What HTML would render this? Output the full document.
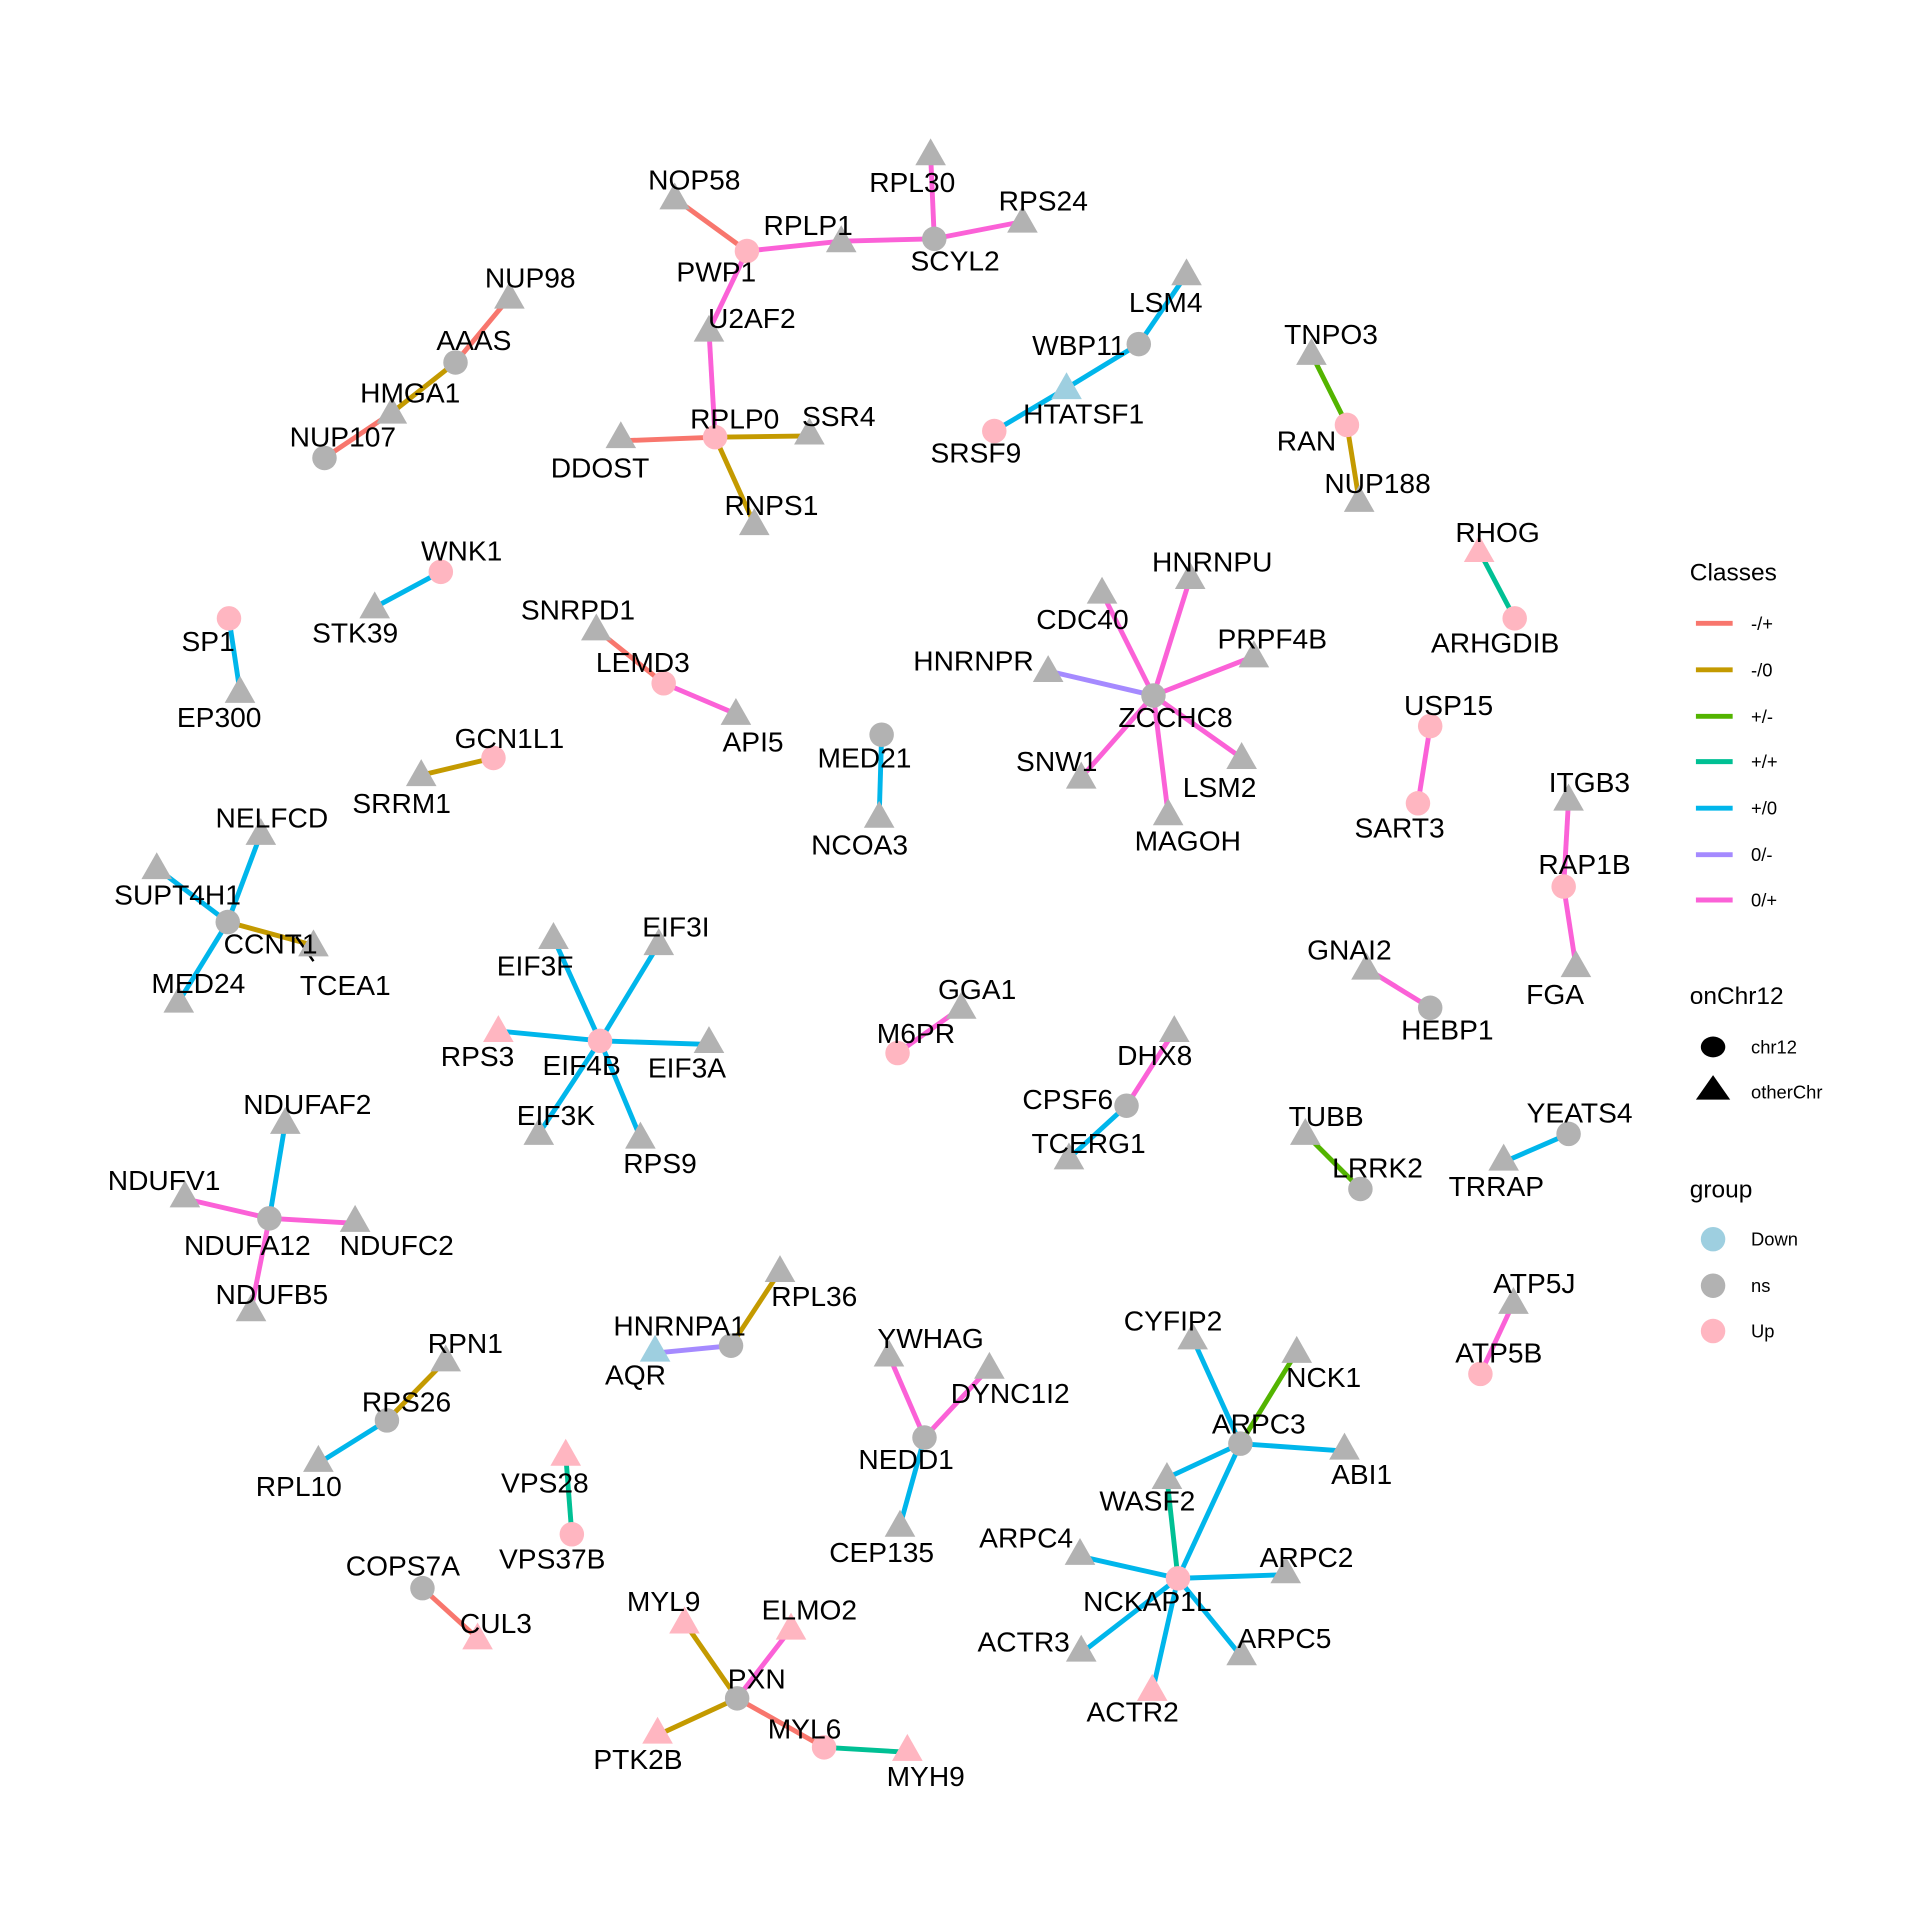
<!DOCTYPE html>
<html><head><meta charset="utf-8"><style>
html,body{margin:0;padding:0;background:#fff;}
svg{display:block;}
text{font-family:"Liberation Sans",Arial,sans-serif;}
.l{font-size:23px;text-anchor:middle;dominant-baseline:central;fill:#000;}
.lg{font-size:15px;dominant-baseline:central;fill:#000;}
.lt{font-size:20px;dominant-baseline:central;fill:#000;}
</style></head><body>
<svg width="1920" height="1920" viewBox="0 0 1568 1568" xmlns="http://www.w3.org/2000/svg">
<defs><polygon id="t" points="0,-13 -12.5,9 12.5,9"/></defs>
<rect width="1568" height="1568" fill="#fff"/>
<g stroke-width="4" stroke-linecap="butt" fill="none">
<!-- cluster 1 -->
<line x1="551" y1="162" x2="610" y2="205" stroke="#F8766D"/>
<line x1="610" y1="205" x2="687" y2="197" stroke="#FB61D7"/>
<line x1="687" y1="197" x2="763" y2="195" stroke="#FB61D7"/>
<line x1="763" y1="195" x2="760" y2="126" stroke="#FB61D7"/>
<line x1="763" y1="195" x2="835" y2="181" stroke="#FB61D7"/>
<line x1="610" y1="205" x2="579" y2="270" stroke="#FB61D7"/>
<line x1="579" y1="270" x2="584" y2="357" stroke="#FB61D7"/>
<line x1="584" y1="357" x2="507" y2="360" stroke="#F8766D"/>
<line x1="584" y1="357" x2="661" y2="356" stroke="#C49A00"/>
<line x1="584" y1="357" x2="616" y2="428" stroke="#C49A00"/>
<!-- AAAS -->
<line x1="416" y1="243" x2="372" y2="296" stroke="#F8766D"/>
<line x1="372" y1="296" x2="320" y2="337" stroke="#C49A00"/>
<line x1="320" y1="337" x2="265" y2="374" stroke="#F8766D"/>
<!-- LSM4 -->
<line x1="969" y1="224" x2="930" y2="281" stroke="#00B6EB"/>
<line x1="930" y1="281" x2="871" y2="317" stroke="#00B6EB"/>
<line x1="871" y1="317" x2="812" y2="352" stroke="#00B6EB"/>
<!-- RAN -->
<line x1="1071" y1="289" x2="1100" y2="347" stroke="#53B400"/>
<line x1="1100" y1="347" x2="1110" y2="409" stroke="#C49A00"/>
<line x1="1208" y1="450" x2="1237" y2="505" stroke="#00C094"/>
<line x1="360" y1="467" x2="306" y2="496" stroke="#00B6EB"/>
<line x1="187" y1="505" x2="196" y2="565" stroke="#00B6EB"/>
<line x1="487" y1="514" x2="542" y2="558" stroke="#F8766D"/>
<line x1="542" y1="558" x2="601" y2="583" stroke="#FB61D7"/>
<line x1="403" y1="619" x2="344" y2="633" stroke="#C49A00"/>
<line x1="720" y1="600" x2="718" y2="667" stroke="#00B6EB"/>
<!-- ZCCHC8 -->
<line x1="942" y1="568" x2="972" y2="472" stroke="#FB61D7"/>
<line x1="942" y1="568" x2="900" y2="484" stroke="#FB61D7"/>
<line x1="942" y1="568" x2="1024" y2="536" stroke="#FB61D7"/>
<line x1="942" y1="568" x2="856" y2="548" stroke="#A58AFF"/>
<line x1="942" y1="568" x2="883" y2="635" stroke="#FB61D7"/>
<line x1="942" y1="568" x2="1014" y2="619" stroke="#FB61D7"/>
<line x1="942" y1="568" x2="954" y2="665" stroke="#FB61D7"/>
<line x1="1168" y1="593" x2="1158" y2="656" stroke="#FB61D7"/>
<line x1="1281" y1="653" x2="1277" y2="724" stroke="#FB61D7"/>
<line x1="1277" y1="724" x2="1287" y2="789" stroke="#FB61D7"/>
<!-- CCNT1 -->
<line x1="213" y1="681" x2="186" y2="753" stroke="#00B6EB"/>
<line x1="128" y1="709" x2="186" y2="753" stroke="#00B6EB"/>
<line x1="186" y1="753" x2="256" y2="772" stroke="#C49A00"/>
<line x1="186" y1="753" x2="146" y2="818" stroke="#00B6EB"/>
<!-- EIF4B -->
<line x1="490" y1="850" x2="452" y2="766" stroke="#00B6EB"/>
<line x1="490" y1="850" x2="538" y2="771" stroke="#00B6EB"/>
<line x1="490" y1="850" x2="407" y2="842" stroke="#00B6EB"/>
<line x1="490" y1="850" x2="579" y2="853" stroke="#00B6EB"/>
<line x1="490" y1="850" x2="440" y2="926" stroke="#00B6EB"/>
<line x1="490" y1="850" x2="523" y2="929" stroke="#00B6EB"/>
<line x1="785" y1="823" x2="733" y2="860" stroke="#FB61D7"/>
<line x1="959" y1="842" x2="920" y2="903" stroke="#FB61D7"/>
<line x1="920" y1="903" x2="873" y2="946" stroke="#00B6EB"/>
<line x1="1116" y1="791" x2="1168" y2="823" stroke="#FB61D7"/>
<line x1="1066" y1="926" x2="1111" y2="971" stroke="#53B400"/>
<line x1="1281" y1="926" x2="1228" y2="949" stroke="#00B6EB"/>
<!-- NDUFA12 -->
<line x1="233" y1="917" x2="220" y2="995" stroke="#00B6EB"/>
<line x1="151" y1="979" x2="220" y2="995" stroke="#FB61D7"/>
<line x1="290" y1="999" x2="220" y2="995" stroke="#FB61D7"/>
<line x1="205" y1="1070" x2="220" y2="995" stroke="#FB61D7"/>
<line x1="1236" y1="1064" x2="1209" y2="1122" stroke="#FB61D7"/>
<line x1="637" y1="1038" x2="597" y2="1099" stroke="#C49A00"/>
<line x1="597" y1="1099" x2="535" y2="1105" stroke="#A58AFF"/>
<line x1="364" y1="1111" x2="316" y2="1160" stroke="#C49A00"/>
<line x1="316" y1="1160" x2="260" y2="1195" stroke="#00B6EB"/>
<line x1="462" y1="1188" x2="467" y2="1253" stroke="#00C094"/>
<line x1="345" y1="1297" x2="390" y2="1338" stroke="#F8766D"/>
<!-- NEDD1 -->
<line x1="726" y1="1107" x2="755" y2="1174" stroke="#FB61D7"/>
<line x1="808" y1="1117" x2="755" y2="1174" stroke="#FB61D7"/>
<line x1="755" y1="1174" x2="735" y2="1246" stroke="#00B6EB"/>
<!-- ARPC -->
<line x1="974" y1="1093" x2="1013" y2="1179" stroke="#00B6EB"/>
<line x1="1059" y1="1104" x2="1013" y2="1179" stroke="#53B400"/>
<line x1="1013" y1="1179" x2="1098" y2="1185" stroke="#00B6EB"/>
<line x1="1013" y1="1179" x2="953" y2="1207" stroke="#00B6EB"/>
<line x1="1013" y1="1179" x2="962" y2="1289" stroke="#00B6EB"/>
<line x1="953" y1="1207" x2="962" y2="1289" stroke="#00C094"/>
<line x1="962" y1="1289" x2="882" y2="1271" stroke="#00B6EB"/>
<line x1="962" y1="1289" x2="1050" y2="1286" stroke="#00B6EB"/>
<line x1="962" y1="1289" x2="883" y2="1350" stroke="#00B6EB"/>
<line x1="962" y1="1289" x2="1014" y2="1353" stroke="#00B6EB"/>
<line x1="962" y1="1289" x2="941" y2="1382" stroke="#00B6EB"/>
<!-- PXN -->
<line x1="559" y1="1325" x2="602" y2="1387" stroke="#C49A00"/>
<line x1="646" y1="1330" x2="602" y2="1387" stroke="#FB61D7"/>
<line x1="537" y1="1417" x2="602" y2="1387" stroke="#C49A00"/>
<line x1="602" y1="1387" x2="673" y2="1427" stroke="#F8766D"/>
<line x1="673" y1="1427" x2="741" y2="1431" stroke="#00C094"/>
</g>
<line x1="242" y1="765" x2="256" y2="785" stroke="#000" stroke-width="2"/>
<!-- nodes -->
<g>
<g fill="#B2B2B2">
<use href="#t" x="551" y="162"/><use href="#t" x="687" y="197"/><use href="#t" x="760" y="126"/><use href="#t" x="835" y="181"/>
<use href="#t" x="579" y="270"/><use href="#t" x="507" y="357"/><use href="#t" x="661" y="354"/><use href="#t" x="616" y="428"/>
<use href="#t" x="416" y="243"/><use href="#t" x="320" y="337"/>
<use href="#t" x="969" y="224"/><use href="#t" x="1071" y="289"/><use href="#t" x="1110" y="409"/>
<use href="#t" x="306" y="496"/><use href="#t" x="196" y="565"/><use href="#t" x="487" y="514"/><use href="#t" x="601" y="583"/>
<use href="#t" x="344" y="633"/><use href="#t" x="718" y="667"/>
<use href="#t" x="972" y="472"/><use href="#t" x="900" y="484"/><use href="#t" x="1024" y="536"/><use href="#t" x="856" y="548"/>
<use href="#t" x="883" y="635"/><use href="#t" x="1014" y="619"/><use href="#t" x="954" y="665"/>
<use href="#t" x="1281" y="653"/><use href="#t" x="1287" y="789"/>
<use href="#t" x="213" y="681"/><use href="#t" x="128" y="709"/><use href="#t" x="256" y="772"/><use href="#t" x="146" y="818"/>
<use href="#t" x="452" y="766"/><use href="#t" x="538" y="771"/><use href="#t" x="579" y="851"/><use href="#t" x="440" y="926"/><use href="#t" x="523" y="929"/>
<use href="#t" x="785" y="823"/><use href="#t" x="959" y="842"/><use href="#t" x="873" y="946"/><use href="#t" x="1116" y="791"/>
<use href="#t" x="1066" y="926"/><use href="#t" x="1228" y="947"/>
<use href="#t" x="233" y="917"/><use href="#t" x="151" y="977"/><use href="#t" x="290" y="997"/><use href="#t" x="205" y="1070"/>
<use href="#t" x="1236" y="1064"/><use href="#t" x="637" y="1038"/><use href="#t" x="364" y="1111"/><use href="#t" x="260" y="1193"/>
<use href="#t" x="726" y="1107"/><use href="#t" x="808" y="1117"/><use href="#t" x="735" y="1246"/>
<use href="#t" x="974" y="1093"/><use href="#t" x="1059" y="1104"/><use href="#t" x="1098" y="1183"/><use href="#t" x="953" y="1207"/>
<use href="#t" x="882" y="1269"/><use href="#t" x="1050" y="1284"/><use href="#t" x="883" y="1348"/><use href="#t" x="1014" y="1351"/>
<circle cx="763" cy="195" r="10"/><circle cx="372" cy="296" r="10"/><circle cx="265" cy="374" r="10"/><circle cx="930" cy="281" r="10"/>
<circle cx="720" cy="600" r="10"/><circle cx="942" cy="568" r="10"/><circle cx="186" cy="753" r="10"/><circle cx="920" cy="903" r="10"/>
<circle cx="1168" cy="823" r="10"/><circle cx="1111" cy="971" r="10"/><circle cx="1281" cy="926" r="10"/><circle cx="220" cy="995" r="10"/>
<circle cx="597" cy="1099" r="10"/><circle cx="316" cy="1160" r="10"/><circle cx="345" cy="1297" r="10"/><circle cx="755" cy="1174" r="10"/>
<circle cx="1013" cy="1179" r="10"/><circle cx="602" cy="1387" r="10"/>
</g>
<g fill="#FFB6C1">
<circle cx="610" cy="205" r="10"/><circle cx="584" cy="357" r="10"/><circle cx="812" cy="352" r="10"/><circle cx="1100" cy="347" r="10"/>
<circle cx="1237" cy="505" r="10"/><circle cx="360" cy="467" r="10"/><circle cx="187" cy="505" r="10"/><circle cx="542" cy="558" r="10"/>
<circle cx="403" cy="619" r="10"/><circle cx="1168" cy="593" r="10"/><circle cx="1158" cy="656" r="10"/><circle cx="1277" cy="724" r="10"/>
<circle cx="490" cy="850" r="10"/><circle cx="733" cy="860" r="10"/><circle cx="1209" cy="1122" r="10"/><circle cx="467" cy="1253" r="10"/>
<circle cx="962" cy="1289" r="10"/><circle cx="673" cy="1427" r="10"/>
<use href="#t" x="1208" y="450"/><use href="#t" x="407" y="842"/><use href="#t" x="462" y="1188"/><use href="#t" x="390" y="1338"/>
<use href="#t" x="941" y="1380"/><use href="#t" x="559" y="1325"/><use href="#t" x="646" y="1330"/><use href="#t" x="537" y="1415"/><use href="#t" x="741" y="1429"/>
</g>
<g fill="#9ECFE0">
<use href="#t" x="871" y="317"/><use href="#t" x="535" y="1103"/>
</g>
</g>
<!-- labels -->
<g class="l">
<text class="l" x="567" y="147">NOP58</text><text class="l" x="585" y="222">PWP1</text><text class="l" x="660" y="184">RPLP1</text>
<text class="l" x="745" y="149">RPL30</text><text class="l" x="780" y="213">SCYL2</text><text class="l" x="852" y="164">RPS24</text>
<text class="l" x="614" y="260">U2AF2</text><text class="l" x="600" y="342">RPLP0</text><text class="l" x="490" y="382">DDOST</text>
<text class="l" x="685" y="340">SSR4</text><text class="l" x="630" y="413">RNPS1</text>
<text class="l" x="433" y="227">NUP98</text><text class="l" x="387" y="278">AAAS</text><text class="l" x="335" y="321">HMGA1</text><text class="l" x="280" y="357">NUP107</text>
<text class="l" x="952" y="247">LSM4</text><text class="l" x="881" y="282">WBP11</text><text class="l" x="885" y="338">HTATSF1</text><text class="l" x="797" y="370">SRSF9</text>
<text class="l" x="1087" y="273">TNPO3</text><text class="l" x="1067" y="360">RAN</text><text class="l" x="1125" y="395">NUP188</text>
<text class="l" x="1223" y="435">RHOG</text><text class="l" x="1221" y="525">ARHGDIB</text>
<text class="l" x="377" y="450">WNK1</text><text class="l" x="290" y="517">STK39</text><text class="l" x="170" y="524">SP1</text><text class="l" x="179" y="586">EP300</text>
<text class="l" x="472" y="498">SNRPD1</text><text class="l" x="525" y="541">LEMD3</text><text class="l" x="615" y="606">API5</text>
<text class="l" x="416" y="603">GCN1L1</text><text class="l" x="328" y="656">SRRM1</text><text class="l" x="706" y="619">MED21</text><text class="l" x="702" y="690">NCOA3</text>
<text class="l" x="960" y="586">ZCCHC8</text><text class="l" x="990" y="459">HNRNPU</text><text class="l" x="884" y="506">CDC40</text><text class="l" x="1039" y="522">PRPF4B</text>
<text class="l" x="795" y="540">HNRNPR</text><text class="l" x="863" y="622">SNW1</text><text class="l" x="996" y="643">LSM2</text><text class="l" x="970" y="687">MAGOH</text>
<text class="l" x="1183" y="576">USP15</text><text class="l" x="1143" y="676">SART3</text><text class="l" x="1298" y="639">ITGB3</text><text class="l" x="1294" y="706">RAP1B</text><text class="l" x="1270" y="812">FGA</text>
<text class="l" x="222" y="668">NELFCD</text><text class="l" x="145" y="731">SUPT4H1</text><text class="l" x="221" y="771">CCNT1</text><text class="l" x="282" y="805">TCEA1</text><text class="l" x="162" y="803">MED24</text>
<text class="l" x="475" y="870">EIF4B</text><text class="l" x="437" y="789">EIF3F</text><text class="l" x="552" y="757">EIF3I</text><text class="l" x="390" y="863">RPS3</text>
<text class="l" x="561" y="872">EIF3A</text><text class="l" x="454" y="911">EIF3K</text><text class="l" x="539" y="950">RPS9</text>
<text class="l" x="798" y="808">GGA1</text><text class="l" x="748" y="844">M6PR</text><text class="l" x="943" y="862">DHX8</text><text class="l" x="872" y="898">CPSF6</text><text class="l" x="889" y="934">TCERG1</text>
<text class="l" x="1102" y="776">GNAI2</text><text class="l" x="1182" y="841">HEBP1</text><text class="l" x="1083" y="912">TUBB</text><text class="l" x="1125" y="954">LRRK2</text>
<text class="l" x="1290" y="909">YEATS4</text><text class="l" x="1222" y="969">TRRAP</text>
<text class="l" x="251" y="902">NDUFAF2</text><text class="l" x="202" y="1017">NDUFA12</text><text class="l" x="134" y="964">NDUFV1</text><text class="l" x="324" y="1017">NDUFC2</text><text class="l" x="222" y="1057">NDUFB5</text>
<text class="l" x="1253" y="1048">ATP5J</text><text class="l" x="1224" y="1105">ATP5B</text>
<text class="l" x="665" y="1059">RPL36</text><text class="l" x="555" y="1083">HNRNPA1</text><text class="l" x="519" y="1123">AQR</text>
<text class="l" x="380" y="1097">RPN1</text><text class="l" x="332" y="1145">RPS26</text><text class="l" x="244" y="1214">RPL10</text>
<text class="l" x="445" y="1211">VPS28</text><text class="l" x="451" y="1273">VPS37B</text><text class="l" x="329" y="1279">COPS7A</text><text class="l" x="405" y="1326">CUL3</text>
<text class="l" x="760" y="1093">YWHAG</text><text class="l" x="825" y="1138">DYNC1I2</text><text class="l" x="740" y="1192">NEDD1</text><text class="l" x="720" y="1268">CEP135</text>
<text class="l" x="958" y="1079">CYFIP2</text><text class="l" x="1081" y="1125">NCK1</text><text class="l" x="1028" y="1163">ARPC3</text><text class="l" x="1112" y="1204">ABI1</text>
<text class="l" x="937" y="1226">WASF2</text><text class="l" x="937" y="1308">NCKAP1L</text><text class="l" x="838" y="1256">ARPC4</text><text class="l" x="1067" y="1272">ARPC2</text>
<text class="l" x="836" y="1341">ACTR3</text><text class="l" x="1049" y="1338">ARPC5</text><text class="l" x="925" y="1398">ACTR2</text>
<text class="l" x="542" y="1308">MYL9</text><text class="l" x="661" y="1315">ELMO2</text><text class="l" x="618" y="1371">PXN</text><text class="l" x="521" y="1437">PTK2B</text>
<text class="l" x="657" y="1412">MYL6</text><text class="l" x="756" y="1451">MYH9</text>
</g>
<!-- legend -->
<text class="lt" x="1380" y="468">Classes</text>
<g stroke-width="4">
<line x1="1385" y1="509" x2="1415" y2="509" stroke="#F8766D"/>
<line x1="1385" y1="547" x2="1415" y2="547" stroke="#C49A00"/>
<line x1="1385" y1="585" x2="1415" y2="585" stroke="#53B400"/>
<line x1="1385" y1="622" x2="1415" y2="622" stroke="#00C094"/>
<line x1="1385" y1="660" x2="1415" y2="660" stroke="#00B6EB"/>
<line x1="1385" y1="698" x2="1415" y2="698" stroke="#A58AFF"/>
<line x1="1385" y1="735" x2="1415" y2="735" stroke="#FB61D7"/>
</g>
<text class="lg" x="1430" y="509">-/+</text><text class="lg" x="1430" y="547">-/0</text><text class="lg" x="1430" y="585">+/-</text>
<text class="lg" x="1430" y="622">+/+</text><text class="lg" x="1430" y="660">+/0</text><text class="lg" x="1430" y="698">0/-</text><text class="lg" x="1430" y="735">0/+</text>
<text class="lt" x="1380" y="814">onChr12</text>
<ellipse cx="1399" cy="855" rx="10" ry="8.5" fill="#000"/>
<polygon points="1399,878 1385,898 1413,898" fill="#000"/>
<text class="lg" x="1430" y="855">chr12</text><text class="lg" x="1430" y="892">otherChr</text>
<text class="lt" x="1380" y="972">group</text>
<circle cx="1399" cy="1012" r="10" fill="#9ECFE0"/><circle cx="1399" cy="1050" r="10" fill="#B2B2B2"/><circle cx="1399" cy="1087" r="10" fill="#FFB6C1"/>
<text class="lg" x="1430" y="1012">Down</text><text class="lg" x="1430" y="1050">ns</text><text class="lg" x="1430" y="1087">Up</text>
</svg>
</body></html>
